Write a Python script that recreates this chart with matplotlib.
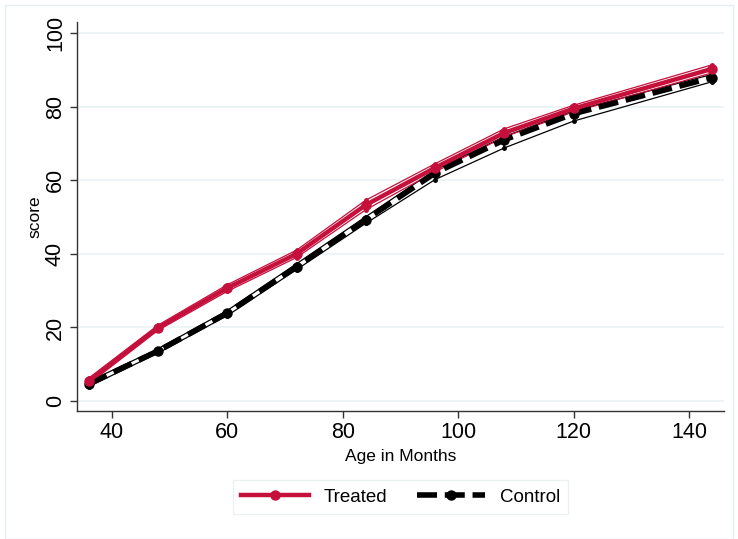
import matplotlib

matplotlib.use("Agg")
import matplotlib.pyplot as plt
from matplotlib.patches import Rectangle

plt.rcParams["font.family"] = ["Liberation Sans", "DejaVu Sans"]

months = [36, 48, 60, 72, 84, 96, 108, 120, 144]

treated = [5.4, 19.9, 30.7, 40.0, 53.3, 63.4, 72.9, 79.5, 90.3]
treated_hi = [6.2, 20.6, 31.6, 41.0, 54.6, 64.5, 74.0, 80.4, 91.4]
treated_lo = [4.6, 19.2, 29.8, 39.0, 52.0, 62.3, 71.8, 78.6, 89.2]

control = [4.6, 13.6, 23.9, 36.5, 49.3, 62.0, 71.0, 78.1, 87.9]
control_hi = [5.3, 14.2, 24.6, 37.3, 50.1, 62.8, 71.9, 78.9, 88.8]
control_lo = [3.9, 13.0, 23.2, 35.7, 48.3, 60.2, 68.8, 76.1, 86.8]

x_ticks = [40, 60, 80, 100, 120, 140]
y_ticks = [0, 20, 40, 60, 80, 100]

RED = "#c5103c"
BLACK = "#000000"

fig = plt.figure(figsize=(7.38, 5.39), dpi=100)
fig.patches.append(Rectangle((5 / 738, 0), 728 / 738, 534 / 539, transform=fig.transFigure,
                             fill=False, edgecolor="#e6eef0", lw=1.0))
ax = fig.add_axes([77 / 738, 1 - 411 / 539, 647 / 738, 389 / 539])


def band(mid, lo, hi, color):
    # thin interval lines with spikes at each age
    ax.plot(months, hi, color=color, lw=0.9, marker="o", ms=2.5, zorder=3)
    ax.plot(months, lo, color=color, lw=0.9, marker="o", ms=2.5, zorder=3)
    ax.vlines(months, lo, hi, color=color, lw=1.2, zorder=3)


band(control, control_lo, control_hi, BLACK)
ax.plot(months, control, color=BLACK, lw=4.0, ls=(0, (3.6, 1.4)), marker="o", ms=6.5,
        zorder=4, label="Control")
band(treated, treated_lo, treated_hi, RED)
ax.plot(months, treated, color=RED, lw=3.2, marker="o", ms=6.5, zorder=5, label="Treated")

ax.set_xlim(34, 146)
ax.set_ylim(-2.7, 103)
ax.set_xticks(x_ticks)
ax.set_yticks(y_ticks)
ax.tick_params(axis="x", labelsize=15.5, length=5, width=1, color="#333333", pad=3)
ax.tick_params(axis="y", labelsize=15.5, length=5, width=1, color="#333333", pad=3,
               labelrotation=90)
for lab in ax.get_yticklabels():
    lab.set_va("center")
ax.grid(axis="y", color="#eaf2f3", lw=1.2)
ax.set_axisbelow(True)
ax.spines[["top", "right"]].set_visible(False)
for s in ("left", "bottom"):
    ax.spines[s].set_color("#333333")
    ax.spines[s].set_linewidth(1.0)
ax.set_xlabel("Age in Months", fontsize=12.5, labelpad=4)
ax.set_ylabel("score", fontsize=12.5, labelpad=2)

handles, labels = ax.get_legend_handles_labels()
leg = fig.legend(handles[::-1], labels[::-1], loc="center", bbox_to_anchor=(400.5 / 738, 1 - 497 / 539),
                 ncol=2, fontsize=13.5, frameon=True, fancybox=False, handlelength=3.6,
                 columnspacing=1.6, borderpad=0.45, handletextpad=0.8)
leg.get_frame().set_edgecolor("#e6eef0")
leg.get_frame().set_linewidth(1.0)

fig.savefig("out.png", dpi=100)
